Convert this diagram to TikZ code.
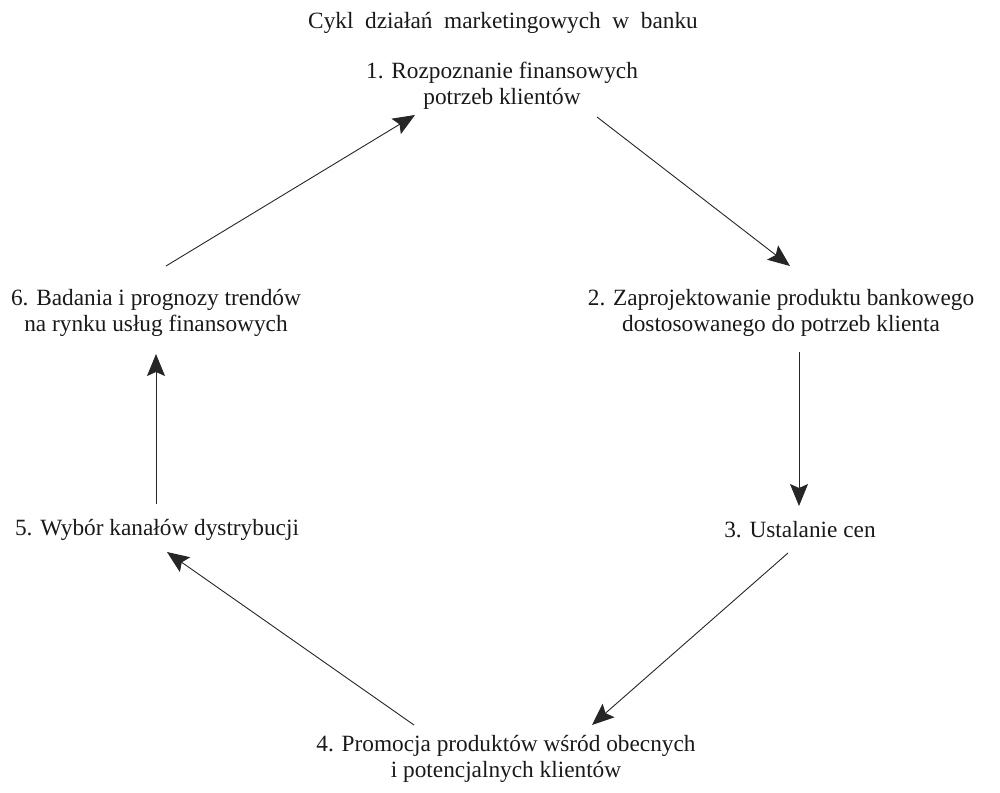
\documentclass[tikz,border=0pt]{standalone}
\usepackage{fontspec}
\setmainfont{Liberation Serif}
\usetikzlibrary{arrows.meta}
\begin{document}
\begin{tikzpicture}[x=1pt,y=-1pt,
  lbl/.style={align=center,font=\fontsize{23.3}{25.5}\selectfont,inner sep=0pt,text=black!90},
  arr/.style={draw=black!85,line width=0.9pt,-{Stealth[length=22pt,width=18pt,inset=4pt]}}]
\useasboundingbox (0,0) rectangle (1000,792);
\node[lbl] (title) at (503,23) {Cykl\ \ działań\ \ marketingowych\ \ w\ \ banku};
\node[lbl] (n1) at (502,86) {1. Rozpoznanie finansowych\\potrzeb klientów};
\node[lbl] (n2) at (781,313) {2. Zaprojektowanie produktu bankowego\\dostosowanego do potrzeb klienta};
\node[lbl] (n3) at (800,530) {3. Ustalanie cen};
\node[lbl] (n4) at (506,759) {4. Promocja produktów wśród obecnych\\i potencjalnych klientów};
\node[lbl] (n5) at (157,530) {5. Wybór kanałów dystrybucji};
\node[lbl] (n6) at (156,313) {6. Badania i prognozy trendów\\na rynku usług finansowych};
\coordinate (s61) at (166,266); \coordinate (t61) at (415,115);
\coordinate (s12) at (597,117); \coordinate (t12) at (790,266);
\coordinate (s23) at (799,352); \coordinate (t23) at (799,506);
\coordinate (s34) at (788,553); \coordinate (t34) at (592,725);
\coordinate (s45) at (414,725); \coordinate (t45) at (167,552);
\coordinate (s56) at (156,504); \coordinate (t56) at (156,354);
\draw[arr] (s61) -- (t61);
\draw[arr] (s12) -- (t12);
\draw[arr] (s23) -- (t23);
\draw[arr] (s34) -- (t34);
\draw[arr] (s45) -- (t45);
\draw[arr] (s56) -- (t56);
\end{tikzpicture}
\end{document}
